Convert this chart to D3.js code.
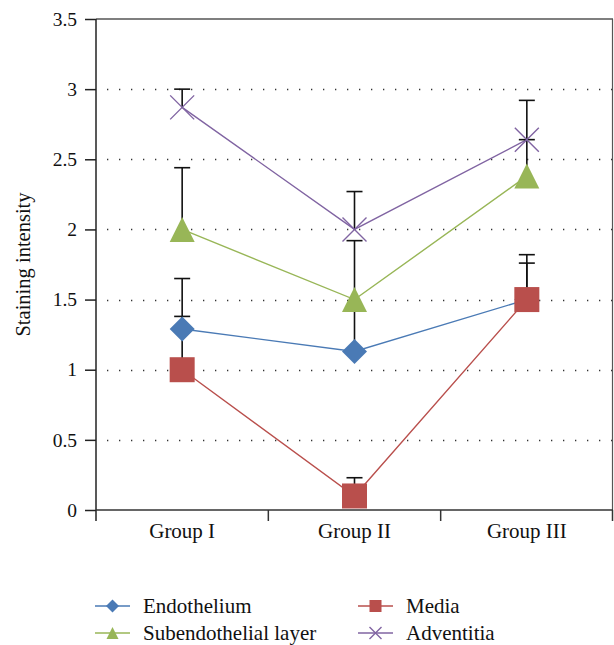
<!DOCTYPE html>
<html>
<head>
<meta charset="utf-8">
<script src="https://cdn.jsdelivr.net/npm/d3@7"></script>
<style>
  body { margin: 0; background: #fff; }
  #chart { width: 614px; height: 645px; }
  text { font-family: "Liberation Serif", "DejaVu Serif", serif; fill: #111; }
</style>
</head>
<body>
<div id="chart"></div>
<script>
const groups = ["Group I", "Group II", "Group III"];
const series_names = ["Endothelium", "Media", "Subendothelial layer", "Adventitia"];
const endothelium = [1.29, 1.13, 1.5];
const endothelium_err = [1.65, 1.45, 1.76];
const media = [1.0, 0.1, 1.5];
const media_err = [1.38, 0.23, 1.82];
const subendothelial = [2.0, 1.5, 2.38];
const subendothelial_err = [2.44, 1.92, 2.64];
const adventitia = [2.87, 2.0, 2.64];
const adventitia_err = [3.0, 2.27, 2.92];
const y_ticks = [0, 0.5, 1, 1.5, 2, 2.5, 3, 3.5];

function staining_plot(element_id) {
    const margin = { top: 19, right: 1, bottom: 135, left: 96 };
    const width = 614 - margin.left - margin.right
    const height = 645 - margin.top - margin.bottom
    const svg = d3.select(`#${element_id}`)
        .append("svg")
        .attr("width", 614)
        .attr("height", 645)
        .append("g")
        .attr("transform", `translate(${margin.left},${margin.top})`);

    const x = d3.scaleBand().domain(groups).range([0, width]);
    const y = d3.scaleLinear().domain([0, 3.5]).range([height, 0]);

    const series = [
        { name: series_names[0], values: endothelium, err: endothelium_err, color: "#4a7ab5", shape: "diamond" },
        { name: series_names[1], values: media, err: media_err, color: "#b94f4c", shape: "square" },
        { name: series_names[2], values: subendothelial, err: subendothelial_err, color: "#98b657", shape: "triangle" },
        { name: series_names[3], values: adventitia, err: adventitia_err, color: "#8064a2", shape: "cross" }
    ];

    // dotted grid
    svg.append("g")
        .selectAll("line")
        .data(y_ticks.filter(d => d > 0 && d < 3.5))
        .enter().append("line")
        .attr("x1", 11).attr("x2", width)
        .attr("y1", d => Math.round(y(d)) + 0.5).attr("y2", d => Math.round(y(d)) + 0.5)
        .attr("stroke", "#333")
        .attr("stroke-width", 1.3)
        .attr("stroke-dasharray", "1.3 10.7");

    // frame top / right
    svg.append("line").attr("x1", 0).attr("x2", width).attr("y1", 0).attr("y2", 0)
        .attr("stroke", "#555").attr("stroke-width", 1.5);
    svg.append("line").attr("x1", width - 0.5).attr("x2", width - 0.5).attr("y1", 0).attr("y2", height)
        .attr("stroke", "#555").attr("stroke-width", 1.2);

    const yAxis = svg.append("g")
        .call(d3.axisLeft(y).tickValues(y_ticks).tickSize(11).tickPadding(8).tickFormat(d3.format("")));
    yAxis.selectAll("text").attr("font-size", 19.5);
    yAxis.selectAll("line, path").attr("stroke", "#222").attr("stroke-width", 1.5);
    yAxis.select(".domain").attr("d", `M0,0V${height + 11}`);

    const xAxis = svg.append("g")
        .attr("transform", `translate(0,${height})`)
        .call(d3.axisBottom(x).tickSize(0).tickPadding(13));
    xAxis.selectAll("text").attr("font-size", 21);
    xAxis.select(".domain").attr("stroke", "#333").attr("stroke-width", 1.5).attr("d", `M0,0H${width}`);
    xAxis.selectAll(".sep")
        .data(groups.slice(1).concat(["end"]))
        .enter().append("line")
        .attr("class", "sep")
        .attr("x1", (d, i) => i < 2 ? x(groups[i + 1]) : width - 0.5)
        .attr("x2", (d, i) => i < 2 ? x(groups[i + 1]) : width - 0.5)
        .attr("y1", 0).attr("y2", 11)
        .attr("stroke", "#333").attr("stroke-width", 1.5);

    const cx = g => x(g) + x.bandwidth() / 2;

    // series lines
    const line = d3.line().x(d => cx(d.g)).y(d => y(d.v));
    series.forEach(s => {
        svg.append("path")
            .datum(groups.map((g, i) => ({ g: g, v: s.values[i] })))
            .attr("fill", "none")
            .attr("stroke", s.color)
            .attr("stroke-width", 1.4)
            .attr("d", line);
    });

    // error bars (upper only)
    series.forEach(s => {
        const eb = svg.append("g").attr("stroke", "#111").attr("stroke-width", 1.6);
        groups.forEach((g, i) => {
            eb.append("line").attr("x1", cx(g)).attr("x2", cx(g))
                .attr("y1", y(s.values[i])).attr("y2", y(s.err[i]));
            eb.append("line").attr("x1", cx(g) - 8).attr("x2", cx(g) + 8)
                .attr("y1", y(s.err[i])).attr("y2", y(s.err[i]));
        });
    });

    function marker(sel, shape, color, size) {
        const h = size / 2;
        if (shape === "diamond") {
            sel.append("path").attr("d", `M0,${-h}L${h},0L0,${h}L${-h},0Z`).attr("fill", color);
        } else if (shape === "square") {
            sel.append("rect").attr("x", -h).attr("y", -h).attr("width", size).attr("height", size).attr("fill", color);
        } else if (shape === "triangle") {
            sel.append("path").attr("d", `M0,${-h}L${h},${h}L${-h},${h}Z`).attr("fill", color);
        } else {
            sel.append("path").attr("d", `M${-h},${-h}L${h},${h}M${h},${-h}L${-h},${h}`)
                .attr("stroke", color).attr("stroke-width", 1.4).attr("fill", "none");
        }
    }

    series.forEach(s => {
        groups.forEach((g, i) => {
            const m = svg.append("g").attr("transform", `translate(${cx(g)},${y(s.values[i])})`);
            marker(m, s.shape, s.color, s.shape === "cross" ? 24 : 25);
        });
    });

    // y title
    svg.append("text")
        .attr("transform", "rotate(-90)")
        .attr("x", -height / 2)
        .attr("y", -margin.left + 30)
        .attr("text-anchor", "middle")
        .attr("font-size", 20.5)
        .text("Staining intensity");

    // legend
    const legend = d3.select(`#${element_id} svg`).append("g");
    const pos = [[95, 606], [358, 606], [95, 633], [358, 633]];
    series.forEach((s, i) => {
        const lg = legend.append("g").attr("transform", `translate(${pos[i][0]},${pos[i][1]})`);
        lg.append("line").attr("x1", 0).attr("x2", 35).attr("y1", 0).attr("y2", 0)
            .attr("stroke", s.color).attr("stroke-width", 1.4);
        const m = lg.append("g").attr("transform", "translate(17.5,0)");
        marker(m, s.shape, s.color, s.shape === "diamond" ? 13 : 12);
        lg.append("text").attr("x", 48).attr("y", 6.5).attr("font-size", 21).text(s.name);
    });
}

staining_plot("chart");
</script>
</body>
</html>
